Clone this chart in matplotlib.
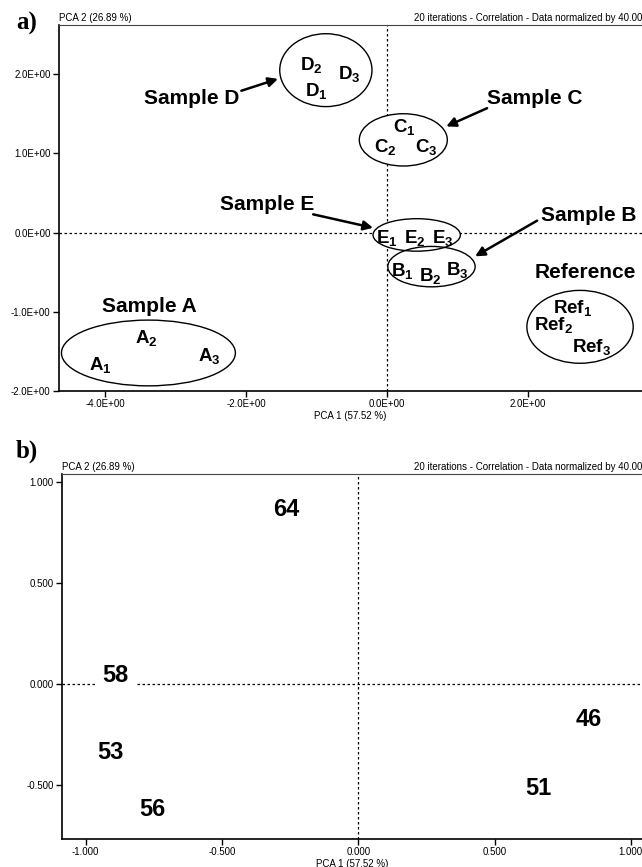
import matplotlib
matplotlib.use("Agg")
import matplotlib.pyplot as plt
from matplotlib.patches import Ellipse

plt.rcParams['mathtext.fontset'] = 'custom'
plt.rcParams['mathtext.rm'] = 'Liberation Sans:bold'
plt.rcParams['mathtext.it'] = 'Liberation Sans:bold'
plt.rcParams['mathtext.bf'] = 'Liberation Sans:bold'

NARROW = ['Liberation Sans Narrow', 'Liberation Sans', 'DejaVu Sans']
BOLD = ['Liberation Sans', 'DejaVu Sans']

# ---------------- Panel a data ----------------
a_xticks = [-4.0, -2.0, 0.0, 2.0]
a_xticklabels = ['-4.0E+00', '-2.0E+00', '0.0E+00', '2.0E+00']
a_yticks = [2.0, 1.0, 0.0, -1.0, -2.0]
a_yticklabels = ['2.0E+00', '1.0E+00', '0.0E+00', '-1.0E+00', '-2.0E+00']

point_labels = ['D$_2$', 'D$_3$', 'D$_1$', 'C$_1$', 'C$_2$', 'C$_3$',
                'E$_1$', 'E$_2$', 'E$_3$', 'B$_1$', 'B$_2$', 'B$_3$',
                'A$_1$', 'A$_2$', 'A$_3$', 'Ref$_1$', 'Ref$_2$', 'Ref$_3$']
point_x = [-1.08, -0.53, -1.01, 0.24, -0.03, 0.56,
           0.00, 0.40, 0.79, 0.22, 0.62, 0.99,
           -4.07, -3.42, -2.53, 2.64, 2.37, 2.91]
point_y = [2.05, 1.94, 1.73, 1.27, 1.02, 1.02,
           -0.13, -0.13, -0.13, -0.55, -0.61, -0.53,
           -1.73, -1.39, -1.62, -1.01, -1.23, -1.51]

group_names = ['D', 'C', 'E', 'B', 'A', 'Ref']
group_cx = [-0.87, 0.23, 0.42, 0.63, -3.39, 2.74]
group_cy = [2.05, 1.17, -0.03, -0.43, -1.52, -1.19]
group_w = [1.31, 1.25, 1.24, 1.24, 2.47, 1.51]
group_h = [0.92, 0.66, 0.41, 0.51, 0.83, 0.92]

sample_titles = ['Sample D', 'Sample C', 'Sample E', 'Sample B', 'Reference', 'Sample A']
title_x = [-2.77, 2.10, -1.71, 2.86, 2.81, -3.38]
title_y = [1.62, 1.62, 0.28, 0.15, -0.57, -1.00]

arrow_tail_x = [-2.07, 1.42, -1.05, 2.13]
arrow_tail_y = [1.79, 1.57, 0.23, 0.15]
arrow_head_x = [-1.55, 0.84, -0.20, 1.25]
arrow_head_y = [1.94, 1.34, 0.06, -0.30]

# ---------------- Panel b data ----------------
b_xticks = [-1.0, -0.5, 0.0, 0.5, 1.0]
b_xticklabels = ['-1.000', '-0.500', '0.000', '0.500', '1.000']
b_yticks = [1.0, 0.5, 0.0, -0.5]
b_yticklabels = ['1.000', '0.500', '0.000', '-0.500']

var_labels = ['64', '58', '53', '56', '46', '51']
var_x = [-0.264, -0.891, -0.910, -0.755, 0.847, 0.659]
var_y = [0.868, 0.045, -0.336, -0.620, -0.174, -0.518]

W, H = 642, 867
fig = plt.figure(figsize=(W / 100, H / 100), dpi=100)


def px_axes(left, top, right, bottom):
    return fig.add_axes([left / W, 1 - bottom / H, (right - left) / W, (bottom - top) / H])


def style_axes(ax, xticks, xtl, yticks, ytl):
    for s in ['right']:
        ax.spines[s].set_visible(False)
    ax.spines['top'].set_linewidth(0.8)
    ax.spines['top'].set_color('#444444')
    ax.spines['left'].set_linewidth(1.2)
    ax.spines['bottom'].set_linewidth(1.2)
    ax.set_xticks(xticks)
    ax.set_xticklabels(xtl)
    ax.set_yticks(yticks)
    ax.set_yticklabels(ytl)
    ax.tick_params(direction='out', length=4, width=1, labelsize=7, pad=2)
    for lab in ax.get_xticklabels() + ax.get_yticklabels():
        lab.set_family(NARROW)
    ax.axhline(0, ls=(0, (2, 2)), lw=0.9, color='k', zorder=1)
    ax.axvline(0, ls=(0, (2, 2)), lw=0.9, color='k', zorder=1)
    ax.set_xlabel('PCA 1 (57.52 %)', fontsize=7, family=NARROW, labelpad=1)
    ax.text(0.0, 1.005, 'PCA 2 (26.89 %)', transform=ax.transAxes, ha='left', va='bottom',
            fontsize=7, family=NARROW)
    ax.text(1.0, 1.005, '20 iterations - Correlation - Data normalized by 40.00',
            transform=ax.transAxes, ha='right', va='bottom', fontsize=7, family=NARROW)


# ---------------- Panel a ----------------
axa = px_axes(59, 25, 642, 391)
axa.set_xlim(-4.66, 3.62)
axa.set_ylim(-2.0, 2.62)
style_axes(axa, a_xticks, a_xticklabels, a_yticks, a_yticklabels)

for cx, cy, w, h in zip(group_cx, group_cy, group_w, group_h):
    axa.add_patch(Ellipse((cx, cy), w, h, facecolor='white', edgecolor='none', zorder=2))
for cx, cy, w, h in zip(group_cx, group_cy, group_w, group_h):
    axa.add_patch(Ellipse((cx, cy), w, h, facecolor='none', edgecolor='black', lw=1.0, zorder=3))

for lab, x, y in zip(point_labels, point_x, point_y):
    axa.text(x, y, lab, ha='center', va='baseline', fontsize=13.5, fontweight='bold',
             family=BOLD, zorder=4)

for lab, x, y in zip(sample_titles, title_x, title_y):
    axa.text(x, y, lab, ha='center', va='baseline', fontsize=15, fontweight='bold',
             family=BOLD, zorder=4)

for tx, ty, hx, hy in zip(arrow_tail_x, arrow_tail_y, arrow_head_x, arrow_head_y):
    axa.annotate('', xy=(hx, hy), xytext=(tx, ty),
                 arrowprops=dict(arrowstyle='-|>', lw=1.8, color='black',
                                 mutation_scale=14, shrinkA=0, shrinkB=0), zorder=5)

fig.text(27 / W, 1 - 23 / H, 'a)', ha='center', va='center', fontsize=18, fontweight='bold',
         family=['Liberation Serif', 'DejaVu Serif'])

# ---------------- Panel b ----------------
axb = px_axes(62, 474, 642, 839)
axb.set_xlim(-1.087, 1.041)
axb.set_ylim(-0.766, 1.042)
style_axes(axb, b_xticks, b_xticklabels, b_yticks, b_yticklabels)

for lab, x, y in zip(var_labels, var_x, var_y):
    axb.text(x, y, lab, ha='center', va='center', fontsize=17, fontweight='bold',
             family=BOLD, zorder=4,
             bbox=dict(facecolor='white', edgecolor='none', pad=5))

fig.text(27 / W, 1 - 451 / H, 'b)', ha='center', va='center', fontsize=18, fontweight='bold',
         family=['Liberation Serif', 'DejaVu Serif'])

fig.savefig('out.png', dpi=100)
